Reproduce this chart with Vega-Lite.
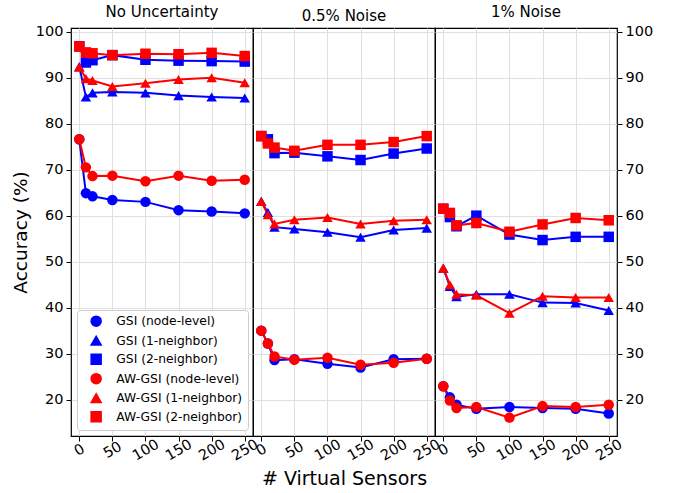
{
  "$schema": "https://vega.github.io/schema/vega-lite/v6.json",
  "padding": {"left": 10, "top": 4, "right": 5, "bottom": 5},
  "bounds": "flush",
  "data": {"values": [
    {"p":"A","m":"GSI (node-level)","x":0,"y":76.6},{"p":"A","m":"GSI (node-level)","x":10,"y":64.9},{"p":"A","m":"GSI (node-level)","x":20,"y":64.2},{"p":"A","m":"GSI (node-level)","x":50,"y":63.4},{"p":"A","m":"GSI (node-level)","x":100,"y":63.0},{"p":"A","m":"GSI (node-level)","x":150,"y":61.2},{"p":"A","m":"GSI (node-level)","x":200,"y":60.9},{"p":"A","m":"GSI (node-level)","x":250,"y":60.5},
    {"p":"A","m":"GSI (1-neighbor)","x":0,"y":92.4},{"p":"A","m":"GSI (1-neighbor)","x":10,"y":85.8},{"p":"A","m":"GSI (1-neighbor)","x":20,"y":86.7},{"p":"A","m":"GSI (1-neighbor)","x":50,"y":86.9},{"p":"A","m":"GSI (1-neighbor)","x":100,"y":86.7},{"p":"A","m":"GSI (1-neighbor)","x":150,"y":86.1},{"p":"A","m":"GSI (1-neighbor)","x":200,"y":85.8},{"p":"A","m":"GSI (1-neighbor)","x":250,"y":85.6},
    {"p":"A","m":"GSI (2-neighbor)","x":0,"y":96.8},{"p":"A","m":"GSI (2-neighbor)","x":10,"y":93.3},{"p":"A","m":"GSI (2-neighbor)","x":20,"y":93.8},{"p":"A","m":"GSI (2-neighbor)","x":50,"y":94.9},{"p":"A","m":"GSI (2-neighbor)","x":100,"y":93.9},{"p":"A","m":"GSI (2-neighbor)","x":150,"y":93.7},{"p":"A","m":"GSI (2-neighbor)","x":200,"y":93.6},{"p":"A","m":"GSI (2-neighbor)","x":250,"y":93.5},
    {"p":"A","m":"AW-GSI (node-level)","x":0,"y":76.6},{"p":"A","m":"AW-GSI (node-level)","x":10,"y":70.5},{"p":"A","m":"AW-GSI (node-level)","x":20,"y":68.6},{"p":"A","m":"AW-GSI (node-level)","x":50,"y":68.7},{"p":"A","m":"AW-GSI (node-level)","x":100,"y":67.5},{"p":"A","m":"AW-GSI (node-level)","x":150,"y":68.7},{"p":"A","m":"AW-GSI (node-level)","x":200,"y":67.6},{"p":"A","m":"AW-GSI (node-level)","x":250,"y":67.8},
    {"p":"A","m":"AW-GSI (1-neighbor)","x":0,"y":92.3},{"p":"A","m":"AW-GSI (1-neighbor)","x":10,"y":89.8},{"p":"A","m":"AW-GSI (1-neighbor)","x":20,"y":89.4},{"p":"A","m":"AW-GSI (1-neighbor)","x":50,"y":88.1},{"p":"A","m":"AW-GSI (1-neighbor)","x":100,"y":88.8},{"p":"A","m":"AW-GSI (1-neighbor)","x":150,"y":89.6},{"p":"A","m":"AW-GSI (1-neighbor)","x":200,"y":90.0},{"p":"A","m":"AW-GSI (1-neighbor)","x":250,"y":88.9},
    {"p":"A","m":"AW-GSI (2-neighbor)","x":0,"y":96.8},{"p":"A","m":"AW-GSI (2-neighbor)","x":10,"y":95.5},{"p":"A","m":"AW-GSI (2-neighbor)","x":20,"y":95.3},{"p":"A","m":"AW-GSI (2-neighbor)","x":50,"y":94.9},{"p":"A","m":"AW-GSI (2-neighbor)","x":100,"y":95.2},{"p":"A","m":"AW-GSI (2-neighbor)","x":150,"y":95.1},{"p":"A","m":"AW-GSI (2-neighbor)","x":200,"y":95.4},{"p":"A","m":"AW-GSI (2-neighbor)","x":250,"y":94.7},
    {"p":"B","m":"GSI (node-level)","x":0,"y":35.0},{"p":"B","m":"GSI (node-level)","x":10,"y":32.2},{"p":"B","m":"GSI (node-level)","x":20,"y":28.6},{"p":"B","m":"GSI (node-level)","x":50,"y":28.8},{"p":"B","m":"GSI (node-level)","x":100,"y":27.8},{"p":"B","m":"GSI (node-level)","x":150,"y":27.0},{"p":"B","m":"GSI (node-level)","x":200,"y":28.8},{"p":"B","m":"GSI (node-level)","x":250,"y":28.9},
    {"p":"B","m":"GSI (1-neighbor)","x":0,"y":63.1},{"p":"B","m":"GSI (1-neighbor)","x":10,"y":60.7},{"p":"B","m":"GSI (1-neighbor)","x":20,"y":57.5},{"p":"B","m":"GSI (1-neighbor)","x":50,"y":57.1},{"p":"B","m":"GSI (1-neighbor)","x":100,"y":56.4},{"p":"B","m":"GSI (1-neighbor)","x":150,"y":55.3},{"p":"B","m":"GSI (1-neighbor)","x":200,"y":56.9},{"p":"B","m":"GSI (1-neighbor)","x":250,"y":57.3},
    {"p":"B","m":"GSI (2-neighbor)","x":0,"y":77.3},{"p":"B","m":"GSI (2-neighbor)","x":10,"y":76.6},{"p":"B","m":"GSI (2-neighbor)","x":20,"y":73.6},{"p":"B","m":"GSI (2-neighbor)","x":50,"y":73.7},{"p":"B","m":"GSI (2-neighbor)","x":100,"y":72.9},{"p":"B","m":"GSI (2-neighbor)","x":150,"y":72.1},{"p":"B","m":"GSI (2-neighbor)","x":200,"y":73.5},{"p":"B","m":"GSI (2-neighbor)","x":250,"y":74.6},
    {"p":"B","m":"AW-GSI (node-level)","x":0,"y":35.0},{"p":"B","m":"AW-GSI (node-level)","x":10,"y":32.2},{"p":"B","m":"AW-GSI (node-level)","x":20,"y":29.4},{"p":"B","m":"AW-GSI (node-level)","x":50,"y":28.7},{"p":"B","m":"AW-GSI (node-level)","x":100,"y":29.1},{"p":"B","m":"AW-GSI (node-level)","x":150,"y":27.6},{"p":"B","m":"AW-GSI (node-level)","x":200,"y":28.0},{"p":"B","m":"AW-GSI (node-level)","x":250,"y":28.9},
    {"p":"B","m":"AW-GSI (1-neighbor)","x":0,"y":63.1},{"p":"B","m":"AW-GSI (1-neighbor)","x":10,"y":60.2},{"p":"B","m":"AW-GSI (1-neighbor)","x":20,"y":58.2},{"p":"B","m":"AW-GSI (1-neighbor)","x":50,"y":59.1},{"p":"B","m":"AW-GSI (1-neighbor)","x":100,"y":59.6},{"p":"B","m":"AW-GSI (1-neighbor)","x":150,"y":58.2},{"p":"B","m":"AW-GSI (1-neighbor)","x":200,"y":58.9},{"p":"B","m":"AW-GSI (1-neighbor)","x":250,"y":59.1},
    {"p":"B","m":"AW-GSI (2-neighbor)","x":0,"y":77.3},{"p":"B","m":"AW-GSI (2-neighbor)","x":10,"y":75.7},{"p":"B","m":"AW-GSI (2-neighbor)","x":20,"y":74.8},{"p":"B","m":"AW-GSI (2-neighbor)","x":50,"y":74.1},{"p":"B","m":"AW-GSI (2-neighbor)","x":100,"y":75.4},{"p":"B","m":"AW-GSI (2-neighbor)","x":150,"y":75.4},{"p":"B","m":"AW-GSI (2-neighbor)","x":200,"y":76.0},{"p":"B","m":"AW-GSI (2-neighbor)","x":250,"y":77.3},
    {"p":"C","m":"GSI (node-level)","x":0,"y":22.9},{"p":"C","m":"GSI (node-level)","x":10,"y":20.5},{"p":"C","m":"GSI (node-level)","x":20,"y":18.9},{"p":"C","m":"GSI (node-level)","x":50,"y":18.0},{"p":"C","m":"GSI (node-level)","x":100,"y":18.4},{"p":"C","m":"GSI (node-level)","x":150,"y":18.2},{"p":"C","m":"GSI (node-level)","x":200,"y":18.0},{"p":"C","m":"GSI (node-level)","x":250,"y":17.0},
    {"p":"C","m":"GSI (1-neighbor)","x":0,"y":48.6},{"p":"C","m":"GSI (1-neighbor)","x":10,"y":44.6},{"p":"C","m":"GSI (1-neighbor)","x":20,"y":42.4},{"p":"C","m":"GSI (1-neighbor)","x":50,"y":42.9},{"p":"C","m":"GSI (1-neighbor)","x":100,"y":42.9},{"p":"C","m":"GSI (1-neighbor)","x":150,"y":41.1},{"p":"C","m":"GSI (1-neighbor)","x":200,"y":41.0},{"p":"C","m":"GSI (1-neighbor)","x":250,"y":39.4},
    {"p":"C","m":"GSI (2-neighbor)","x":0,"y":61.5},{"p":"C","m":"GSI (2-neighbor)","x":10,"y":59.7},{"p":"C","m":"GSI (2-neighbor)","x":20,"y":57.7},{"p":"C","m":"GSI (2-neighbor)","x":50,"y":60.0},{"p":"C","m":"GSI (2-neighbor)","x":100,"y":55.9},{"p":"C","m":"GSI (2-neighbor)","x":150,"y":54.7},{"p":"C","m":"GSI (2-neighbor)","x":200,"y":55.4},{"p":"C","m":"GSI (2-neighbor)","x":250,"y":55.4},
    {"p":"C","m":"AW-GSI (node-level)","x":0,"y":22.9},{"p":"C","m":"AW-GSI (node-level)","x":10,"y":19.8},{"p":"C","m":"AW-GSI (node-level)","x":20,"y":18.2},{"p":"C","m":"AW-GSI (node-level)","x":50,"y":18.4},{"p":"C","m":"AW-GSI (node-level)","x":100,"y":16.1},{"p":"C","m":"AW-GSI (node-level)","x":150,"y":18.6},{"p":"C","m":"AW-GSI (node-level)","x":200,"y":18.4},{"p":"C","m":"AW-GSI (node-level)","x":250,"y":18.9},
    {"p":"C","m":"AW-GSI (1-neighbor)","x":0,"y":48.6},{"p":"C","m":"AW-GSI (1-neighbor)","x":10,"y":45.0},{"p":"C","m":"AW-GSI (1-neighbor)","x":20,"y":42.9},{"p":"C","m":"AW-GSI (1-neighbor)","x":50,"y":42.7},{"p":"C","m":"AW-GSI (1-neighbor)","x":100,"y":38.8},{"p":"C","m":"AW-GSI (1-neighbor)","x":150,"y":42.5},{"p":"C","m":"AW-GSI (1-neighbor)","x":200,"y":42.2},{"p":"C","m":"AW-GSI (1-neighbor)","x":250,"y":42.2},
    {"p":"C","m":"AW-GSI (2-neighbor)","x":0,"y":61.5},{"p":"C","m":"AW-GSI (2-neighbor)","x":10,"y":60.6},{"p":"C","m":"AW-GSI (2-neighbor)","x":20,"y":57.9},{"p":"C","m":"AW-GSI (2-neighbor)","x":50,"y":58.4},{"p":"C","m":"AW-GSI (2-neighbor)","x":100,"y":56.5},{"p":"C","m":"AW-GSI (2-neighbor)","x":150,"y":58.1},{"p":"C","m":"AW-GSI (2-neighbor)","x":200,"y":59.5},{"p":"C","m":"AW-GSI (2-neighbor)","x":250,"y":59.0}
  ]},
  "spacing": 0,
  "resolve": {"legend": {"color": "independent", "shape": "independent"}},
  "hconcat": [
    {
      "title": "No Uncertainty",
      "width": 182, "height": 408,
      "transform": [{"filter": "datum.p == 'A'"}],
      "encoding": {
        "x": {"field": "x", "type": "quantitative", "scale": {"domain": [-12.5, 262.5], "nice": false, "zero": false},
              "axis": {"values": [0, 50, 100, 150, 200, 250], "labelAngle": -30, "labelAlign": "center", "labelBaseline": "middle", "labelPadding": 9, "title": null}},
        "y": {"field": "y", "type": "quantitative", "scale": {"domain": [12.1, 100.8], "nice": false, "zero": false},
              "axis": {"values": [20, 30, 40, 50, 60, 70, 80, 90, 100], "title": "Accuracy (%)", "titleFontSize": 18.5, "titlePadding": 5, "labelPadding": 3}},
        "color": {"field": "m", "type": "nominal",
                  "scale": {"domain": ["GSI (node-level)", "GSI (1-neighbor)", "GSI (2-neighbor)", "AW-GSI (node-level)", "AW-GSI (1-neighbor)", "AW-GSI (2-neighbor)"],
                            "range": ["#0000ff", "#0000ff", "#0000ff", "#ff0000", "#ff0000", "#ff0000"]},
                  "legend": {"title": null, "orient": "bottom-left", "offset": 6, "fillColor": "white", "strokeColor": "#cccccc", "cornerRadius": 3, "padding": 5,
                             "labelFontSize": 12.3, "labelFont": "DejaVu Sans", "labelColor": "black", "rowPadding": 2.5, "symbolSize": 100, "symbolOffset": 8, "labelOffset": 14}},
        "shape": {"field": "m", "type": "nominal",
                  "scale": {"domain": ["GSI (node-level)", "GSI (1-neighbor)", "GSI (2-neighbor)", "AW-GSI (node-level)", "AW-GSI (1-neighbor)", "AW-GSI (2-neighbor)"],
                            "range": ["circle", "triangle-up", "square", "circle", "triangle-up", "square"]},
                  "legend": {"title": null, "orient": "bottom-left", "offset": 6, "fillColor": "white", "strokeColor": "#cccccc", "cornerRadius": 3, "padding": 5,
                             "labelFontSize": 12.3, "labelFont": "DejaVu Sans", "labelColor": "black", "rowPadding": 2.5, "symbolSize": 100, "symbolOffset": 8, "labelOffset": 14}}
      },
      "layer": [
        {"mark": {"type": "line", "strokeWidth": 2}},
        {"mark": {"type": "point", "filled": true, "size": 110, "opacity": 1}}
      ]
    },
    {
      "title": "0.5% Noise",
      "width": 182, "height": 408,
      "transform": [{"filter": "datum.p == 'B'"}],
      "encoding": {
        "x": {"field": "x", "type": "quantitative", "scale": {"domain": [-12.5, 262.5], "nice": false, "zero": false},
              "axis": {"values": [0, 50, 100, 150, 200, 250], "labelAngle": -30, "labelAlign": "center", "labelBaseline": "middle", "labelPadding": 9, "title": "# Virtual Sensors", "titleFontSize": 19, "titlePadding": 7}},
        "y": {"field": "y", "type": "quantitative", "scale": {"domain": [12.1, 100.8], "nice": false, "zero": false},
              "axis": {"values": [20, 30, 40, 50, 60, 70, 80, 90, 100], "labels": false, "ticks": false, "title": null}},
        "color": {"field": "m", "type": "nominal",
                  "scale": {"domain": ["GSI (node-level)", "GSI (1-neighbor)", "GSI (2-neighbor)", "AW-GSI (node-level)", "AW-GSI (1-neighbor)", "AW-GSI (2-neighbor)"],
                            "range": ["#0000ff", "#0000ff", "#0000ff", "#ff0000", "#ff0000", "#ff0000"]}, "legend": null},
        "shape": {"field": "m", "type": "nominal",
                  "scale": {"domain": ["GSI (node-level)", "GSI (1-neighbor)", "GSI (2-neighbor)", "AW-GSI (node-level)", "AW-GSI (1-neighbor)", "AW-GSI (2-neighbor)"],
                            "range": ["circle", "triangle-up", "square", "circle", "triangle-up", "square"]}, "legend": null}
      },
      "layer": [
        {"mark": {"type": "line", "strokeWidth": 2}},
        {"mark": {"type": "point", "filled": true, "size": 110, "opacity": 1}}
      ]
    },
    {
      "title": "1% Noise",
      "width": 182, "height": 408,
      "transform": [{"filter": "datum.p == 'C'"}],
      "encoding": {
        "x": {"field": "x", "type": "quantitative", "scale": {"domain": [-12.5, 262.5], "nice": false, "zero": false},
              "axis": {"values": [0, 50, 100, 150, 200, 250], "labelAngle": -30, "labelAlign": "center", "labelBaseline": "middle", "labelPadding": 9, "title": null}},
        "y": {"field": "y", "type": "quantitative", "scale": {"domain": [12.1, 100.8], "nice": false, "zero": false},
              "axis": {"orient": "right", "values": [20, 30, 40, 50, 60, 70, 80, 90, 100], "title": null, "labelPadding": 3}},
        "color": {"field": "m", "type": "nominal",
                  "scale": {"domain": ["GSI (node-level)", "GSI (1-neighbor)", "GSI (2-neighbor)", "AW-GSI (node-level)", "AW-GSI (1-neighbor)", "AW-GSI (2-neighbor)"],
                            "range": ["#0000ff", "#0000ff", "#0000ff", "#ff0000", "#ff0000", "#ff0000"]}, "legend": null},
        "shape": {"field": "m", "type": "nominal",
                  "scale": {"domain": ["GSI (node-level)", "GSI (1-neighbor)", "GSI (2-neighbor)", "AW-GSI (node-level)", "AW-GSI (1-neighbor)", "AW-GSI (2-neighbor)"],
                            "range": ["circle", "triangle-up", "square", "circle", "triangle-up", "square"]}, "legend": null}
      },
      "layer": [
        {"mark": {"type": "line", "strokeWidth": 2}},
        {"mark": {"type": "point", "filled": true, "size": 110, "opacity": 1}}
      ]
    }
  ],
  "config": {
    "font": "DejaVu Sans",
    "view": {"stroke": "black", "strokeWidth": 1.2},
    "axis": {"labelFont": "DejaVu Sans", "labelFontSize": 14.5, "labelColor": "black", "tickColor": "black", "tickSize": 5, "tickWidth": 1,
             "gridColor": "#e0e0e0", "gridWidth": 1, "domain": false, "titleFont": "DejaVu Sans", "titleFontWeight": "normal", "titleColor": "black"},
    "title": {"fontSize": 15, "fontWeight": "normal", "font": "DejaVu Sans", "color": "black", "offset": 0}
  }
}
